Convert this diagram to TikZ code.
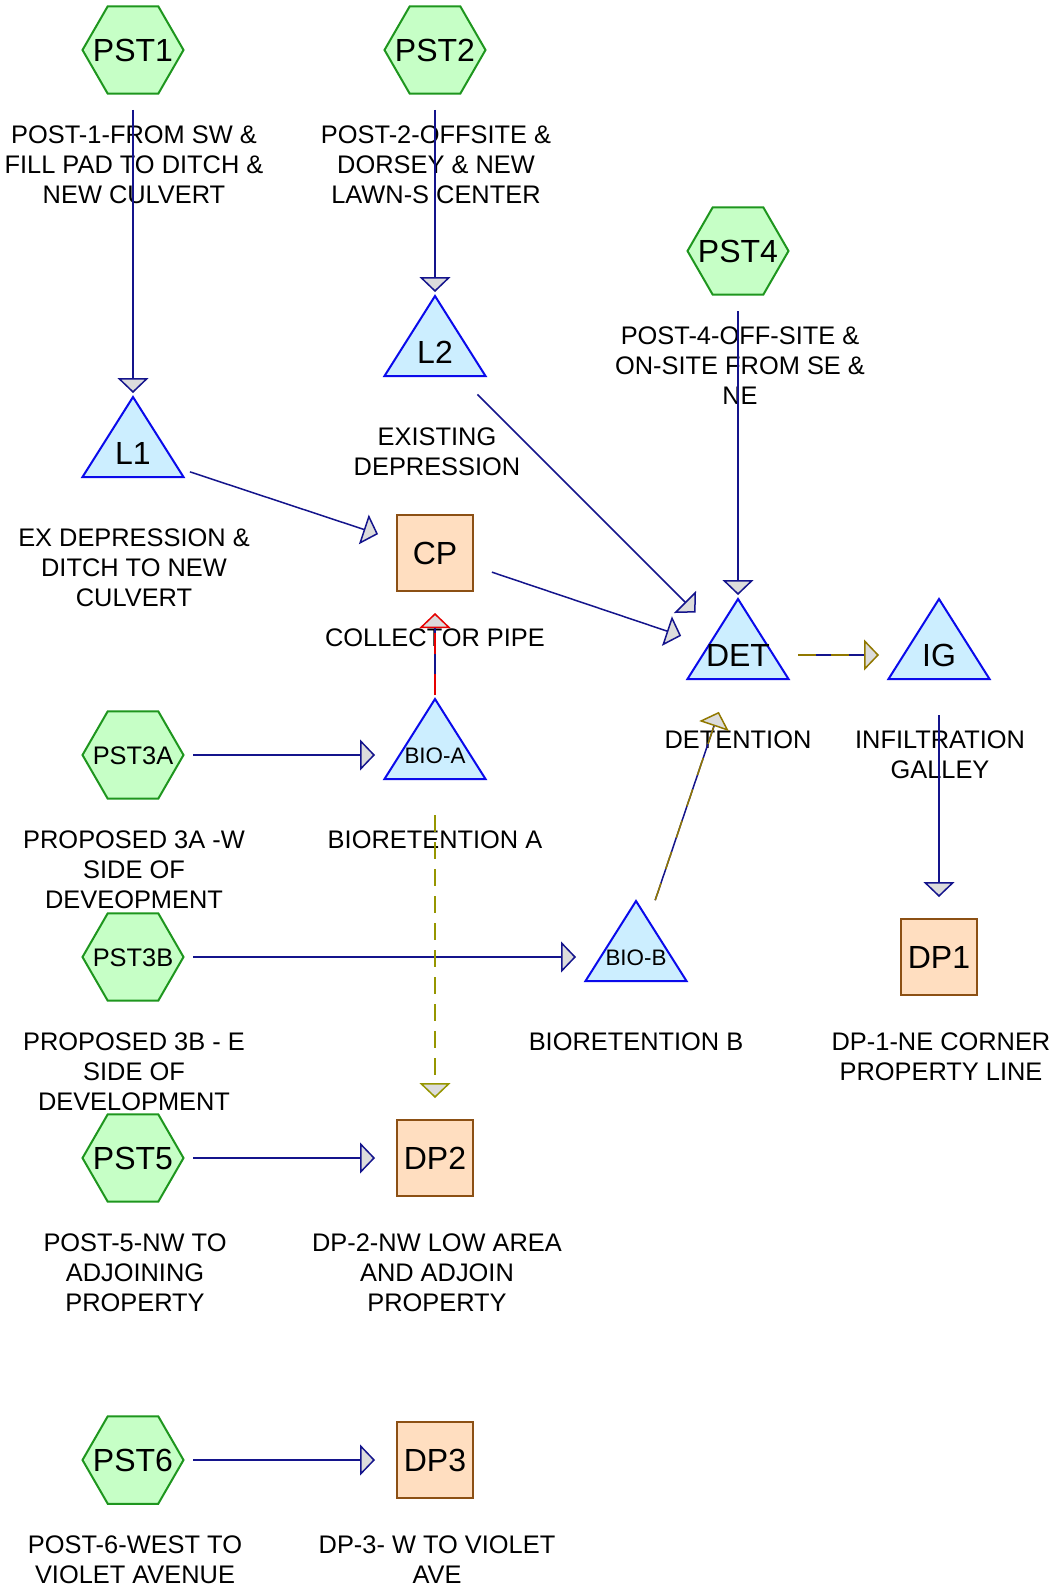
\documentclass[tikz,border=0pt]{standalone}
\usepackage{fontspec}
\setmainfont{Liberation Sans}
\usetikzlibrary{shapes.geometric,arrows.meta}
\definecolor{hexfill}{RGB}{198,255,198}
\definecolor{hexdraw}{RGB}{30,150,30}
\definecolor{trifill}{RGB}{204,238,255}
\definecolor{tridraw}{RGB}{10,10,235}
\definecolor{boxfill}{RGB}{255,222,192}
\definecolor{boxdraw}{RGB}{140,80,20}
\definecolor{linkblue}{RGB}{20,20,140}
\definecolor{agray}{RGB}{220,220,220}
\definecolor{oliveb}{RGB}{145,120,0}
\definecolor{olivey}{RGB}{150,150,0}
\definecolor{linkred}{RGB}{230,0,0}
\newcommand\bigfnt{\fontsize{16}{18}\selectfont}
\newcommand\midfnt{\fontsize{12.7}{15}\selectfont}
\newcommand\smlfnt{\fontsize{11.2}{13}\selectfont}
\newcommand\zw[1]{\makebox[0pt][c]{#1}}
\begin{document}
\begin{tikzpicture}[x=0.5pt,y=-0.5pt,
  hexnode/.style={regular polygon, regular polygon sides=6, minimum size=50.5pt, inner sep=0pt,
    draw=hexdraw, fill=hexfill, line width=1pt, font=\bigfnt, text height=11.45pt, text depth=0pt},
  boxnode/.style={rectangle, minimum size=38pt, inner sep=0pt, draw=boxdraw, fill=boxfill,
    line width=1pt, font=\bigfnt, text height=11.45pt, text depth=0pt},
  trishape/.style={draw=tridraw, fill=trifill, line width=1pt, line join=miter},
  trinode/.style={inner sep=0pt, font=\bigfnt, text height=11.45pt, text depth=0pt},
  midtext/.style={font=\midfnt, text height=9.1pt},
  smltext/.style={font=\smlfnt, text height=8pt},
  lbl/.style={align=center, anchor=north, inner sep=0pt, font=\midfnt},
  baseline/.style={draw=linkblue, line width=0.75pt, shorten <=30pt, shorten >=37pt},
  link/.style={draw=linkblue, line width=0.75pt, shorten <=30pt, shorten >=30pt,
    -{Triangle[length=7.5pt,width=15.5pt,fill=agray]}},
]
\useasboundingbox[fill=white] (0,0) rectangle (1053,1589);

% hexagons
\node[hexnode] (pst1) at (133,50) {\zw{PST1}};
\node[hexnode] (pst2) at (435,50) {\zw{PST2}};
\node[hexnode] (pst4) at (738,251) {\zw{PST4}};
\node[hexnode, midtext] (pst3a) at (133,755) {\zw{PST3A}};
\node[hexnode, midtext] (pst3b) at (133,957) {\zw{PST3B}};
\node[hexnode] (pst5) at (133,1158) {\zw{PST5}};
\node[hexnode] (pst6) at (133,1460) {\zw{PST6}};

% boxes
\node[boxnode] (cp) at (435,553) {CP};
\node[boxnode] (dp1) at (939,957) {DP1};
\node[boxnode] (dp2) at (435,1158) {DP2};
\node[boxnode] (dp3) at (435,1460) {DP3};

% triangles
\draw[trishape] (133,452) ++(0,-55) -- ++(50.5,80) -- ++(-101,0) -- cycle;
\node[trinode] (l1) at (133,453) {L1};
\draw[trishape] (435,351) ++(0,-55) -- ++(50.5,80) -- ++(-101,0) -- cycle;
\node[trinode] (l2) at (435,352) {L2};
\draw[trishape] (738,654) ++(0,-55) -- ++(50.5,80) -- ++(-101,0) -- cycle;
\node[trinode] (det) at (738,655) {DET};
\draw[trishape] (939,654) ++(0,-55) -- ++(50.5,80) -- ++(-101,0) -- cycle;
\node[trinode] (ig) at (939,655) {IG};
\draw[trishape] (435,754) ++(0,-55) -- ++(50.5,80) -- ++(-101,0) -- cycle;
\node[trinode, smltext] (bioa) at (435,755) {BIO-A};
\draw[trishape] (636,956) ++(0,-55) -- ++(50.5,80) -- ++(-101,0) -- cycle;
\node[trinode, smltext] (biob) at (636,957) {BIO-B};

% labels
\node[lbl] (tpst1) at (134,125.5) {POST-1-FROM SW \&\\FILL PAD TO DITCH \&\\NEW CULVERT};
\node[lbl] (tpst2) at (436,125.5) {POST-2-OFFSITE \&\\DORSEY \& NEW\\LAWN-S CENTER};
\node[lbl] (tl2) at (437,427.5) {EXISTING\\DEPRESSION};
\node[lbl] (tpst4) at (740,326.5) {POST-4-OFF-SITE \&\\ON-SITE FROM SE \&\\NE};
\node[lbl] (tl1) at (134,528.5) {EX DEPRESSION \&\\DITCH TO NEW\\CULVERT};
\node[lbl] (tcp) at (435,628.5) {COLLECTOR PIPE};
\node[lbl] (tdet) at (738,730.5) {DETENTION};
\node[lbl] (tig) at (940,730.5) {INFILTRATION\\GALLEY};
\node[lbl] (tpst3a) at (134,830.5) {PROPOSED 3A -W\\SIDE OF\\DEVEOPMENT};
\node[lbl] (tbioa) at (435,830.5) {BIORETENTION A};
\node[lbl] (tpst3b) at (134,1032.5) {PROPOSED 3B - E\\SIDE OF\\DEVELOPMENT};
\node[lbl] (tbiob) at (636,1032.5) {BIORETENTION B};
\node[lbl] (tdp1) at (941,1032.5) {DP-1-NE CORNER\\PROPERTY LINE};
\node[lbl] (tpst5) at (135,1233.5) {POST-5-NW TO\\ADJOINING\\PROPERTY};
\node[lbl] (tdp2) at (437,1233.5) {DP-2-NW LOW AREA\\AND ADJOIN\\PROPERTY};
\node[lbl] (tpst6) at (135,1535.5) {POST-6-WEST TO\\VIOLET AVENUE};
\node[lbl] (tdp3) at (437,1535.5) {DP-3- W TO VIOLET\\AVE};

% links
\draw[link] (pst1.center) -- (l1.center);
\draw[link] (pst2.center) -- (l2.center);
\draw[link] (pst4.center) -- (det.center);
\draw[link] (l1.center) -- (cp.center);
\draw[link] (cp.center) -- (det.center);
\draw[link] (l2.center) -- (det.center);
\draw[link] (pst3a.center) -- (bioa.center);
\draw[link] (pst3b.center) -- (biob.center);
\draw[link] (ig.center) -- (dp1.center);
\draw[link] (pst5.center) -- (dp2.center);
\draw[link] (pst6.center) -- (dp3.center);

\draw[baseline] (det.center) -- (ig.center);
\draw[link, draw=oliveb, dash pattern=on 9pt off 7.5pt] (det.center) -- (ig.center);
\draw[baseline] (biob.center) -- (det.center);
\draw[link, draw=oliveb, dash pattern=on 9pt off 7.5pt] (biob.center) -- (det.center);
\draw[baseline] (bioa.center) -- (cp.center);
\draw[link, draw=linkred, dash pattern=on 10.5pt off 10pt] (bioa.center) -- (cp.center);
\draw[link, draw=olivey, dash pattern=on 8.5pt off 5pt] (bioa.center) -- (dp2.center);
\end{tikzpicture}
\end{document}
